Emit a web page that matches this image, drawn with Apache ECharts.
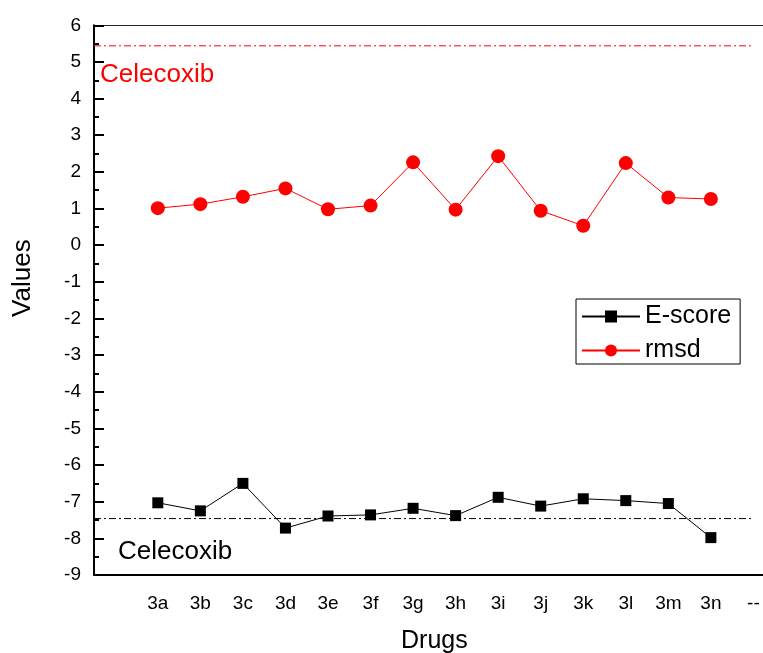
<!DOCTYPE html>
<html><head><meta charset="utf-8">
<script src="https://cdn.jsdelivr.net/npm/echarts@6/dist/echarts.min.js"></script>
<style>html,body{margin:0;padding:0;background:#fff}#c{width:763px;height:653px}</style>
</head><body><div id="c"></div>
<script>
// ---- data ----
const drugSlots = ['', '3a','3b','3c','3d','3e','3f','3g','3h','3i','3j','3k','3l','3m','3n','--'];
const compounds = ['3a','3b','3c','3d','3e','3f','3g','3h','3i','3j','3k','3l','3m','3n'];
const eScore = [-7.03,-7.25,-6.50,-7.72,-7.39,-7.36,-7.18,-7.38,-6.88,-7.12,-6.92,-6.97,-7.05,-7.98];
const rmsd = [1.01,1.12,1.32,1.55,0.98,1.08,2.26,0.97,2.43,0.94,0.53,2.24,1.30,1.26];
const celecoxibRmsd = 5.44;
const celecoxibEScore = -7.46;
const refLabel = 'Celecoxib';
const yMin = -9, yMax = 6;

const FONT = "'Liberation Sans', Arial, sans-serif";
const chart = echarts.init(document.getElementById('c'), null, {renderer: 'canvas'});

const refStart = -0.5, refEnd = drugSlots.length - 1;

const option = {
  animation: false,
  backgroundColor: '#fff',
  grid: {left: 94, top: 25.3, right: -11.7, bottom: 78, containLabel: false, outerBoundsMode: 'none'},
  legend: {
    data: ['E-score', 'rmsd'],
    orient: 'vertical',
    left: 576, top: 299,
    itemWidth: 58, itemHeight: 15, itemGap: 9,
    padding: [5, 9, 1, 5],
    borderColor: '#000', borderWidth: 1,
    textStyle: {fontFamily: FONT, fontSize: 25, color: '#000'}
  },
  xAxis: [
    {
      type: 'category', position: 'bottom', data: drugSlots, boundaryGap: true,
      axisLine: {onZero: false, lineStyle: {color: '#000', width: 2}},
      axisTick: {alignWithLabel: true, interval: 0, length: 8, lineStyle: {color: '#000', width: 2}},
      axisLabel: {interval: 0, margin: 19, color: '#000', fontFamily: FONT, fontSize: 19},
      splitLine: {show: false},
      name: 'Drugs', nameLocation: 'middle', nameGap: 54,
      nameTextStyle: {fontFamily: FONT, fontSize: 25, color: '#000'}
    },
    {
      type: 'category', position: 'bottom', data: drugSlots, boundaryGap: true,
      axisLine: {show: false, onZero: false},
      axisTick: {length: 5, interval: 0, lineStyle: {color: '#000', width: 2}},
      axisLabel: {show: false},
      splitLine: {show: false}
    },
    {
      type: 'value', position: 'top', min: refStart, max: refStart + drugSlots.length,
      axisLine: {show: true, onZero: false, lineStyle: {color: '#222', width: 1}},
      axisTick: {show: false}, axisLabel: {show: false}, splitLine: {show: false}
    }
  ],
  yAxis: [{
    type: 'value', min: yMin, max: yMax, interval: 1,
    axisLine: {show: true, onZero: false, lineStyle: {color: '#000', width: 2}},
    axisTick: {show: true, inside: true, length: 10, lineStyle: {color: '#000', width: 2}},
    minorTick: {show: true, splitNumber: 2, length: 5, lineStyle: {color: '#000', width: 2}},
    axisLabel: {margin: 13, color: '#000', fontFamily: FONT, fontSize: 19},
    splitLine: {show: false},
    name: 'Values', nameLocation: 'middle', nameGap: 58,
    nameTextStyle: {fontFamily: FONT, fontSize: 26, color: '#000', padding: [0, 0, 0, 44]}
  }],
  series: [
    {
      name: 'E-score', type: 'line', xAxisIndex: 0, yAxisIndex: 0,
      data: compounds.map((c, i) => [c, eScore[i]]),
      symbol: 'rect', symbolSize: 11,
      itemStyle: {color: '#000'}, lineStyle: {color: '#000', width: 1}
    },
    {
      name: 'rmsd', type: 'line', xAxisIndex: 0, yAxisIndex: 0,
      data: compounds.map((c, i) => [c, rmsd[i]]),
      symbol: 'circle', symbolSize: 14,
      itemStyle: {color: '#ff0000'}, lineStyle: {color: '#ff0000', width: 1}
    },
    {
      name: 'ref-rmsd', type: 'line', xAxisIndex: 2, yAxisIndex: 0, silent: true,
      data: [[refStart, celecoxibRmsd], [refEnd, celecoxibRmsd]],
      symbol: 'none', lineStyle: {color: '#ff0000', width: 1, type: [7, 3, 2, 3]}
    },
    {
      name: 'ref-escore', type: 'line', xAxisIndex: 2, yAxisIndex: 0, silent: true,
      data: [[refStart, celecoxibEScore], [refEnd, celecoxibEScore]],
      symbol: 'none', lineStyle: {color: '#000', width: 1, type: [7, 3, 2, 3]}
    }
  ]
};
chart.setOption(option);

// annotation labels placed relative to the reference lines
const pR = chart.convertToPixel({xAxisIndex: 2, yAxisIndex: 0}, [refStart, celecoxibRmsd]);
const pE = chart.convertToPixel({xAxisIndex: 2, yAxisIndex: 0}, [refStart, celecoxibEScore]);
chart.setOption({
  graphic: [
    {type: 'text', x: pR[0] + 6, y: pR[1] + 29.5, silent: true,
     style: {text: refLabel, fill: '#ff0000', font: '26px ' + FONT, verticalAlign: 'middle', align: 'left'}},
    {type: 'text', x: pE[0] + 24, y: pE[1] + 33, silent: true,
     style: {text: refLabel, fill: '#000', font: '26px ' + FONT, verticalAlign: 'middle', align: 'left'}}
  ]
});
</script></body></html>
